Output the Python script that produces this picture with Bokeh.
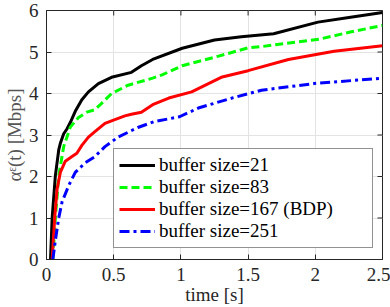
import math
from bokeh.plotting import figure
from bokeh.models import Range1d, FixedTicker, Legend, LegendItem
from bokeh.embed import file_html
from bokeh.resources import INLINE

# ---- data ----
t_21 = [0.03, 0.042, 0.066, 0.091, 0.103, 0.128, 0.153, 0.177, 0.214, 0.263, 0.312, 0.386, 0.484, 0.632, 0.706, 0.79, 1.01, 1.25, 1.45, 1.69, 2.02, 2.25, 2.5]
v_21 = [0.0, 1.0, 2.02, 2.64, 2.8, 3.03, 3.15, 3.3, 3.57, 3.85, 4.04, 4.24, 4.39, 4.51, 4.67, 4.82, 5.09, 5.29, 5.37, 5.44, 5.72, 5.83, 5.95]

t_83 = [0.047, 0.066, 0.091, 0.128, 0.177, 0.238, 0.3, 0.36, 0.4, 0.484, 0.607, 0.79, 0.86, 1.01, 1.28, 1.5, 1.6, 2.03, 2.26, 2.5]
v_83 = [0.0, 1.0, 2.02, 2.72, 3.19, 3.42, 3.55, 3.61, 3.73, 4.0, 4.2, 4.37, 4.45, 4.67, 4.9, 5.1, 5.13, 5.31, 5.48, 5.64]

t_167 = [0.042, 0.061, 0.079, 0.103, 0.14, 0.19, 0.226, 0.263, 0.312, 0.36, 0.435, 0.484, 0.583, 0.632, 0.706, 0.79, 0.91, 1.08, 1.3, 1.5, 1.8, 2.14, 2.5]
v_167 = [0.0, 1.0, 1.7, 2.1, 2.37, 2.48, 2.56, 2.75, 2.95, 3.08, 3.28, 3.34, 3.46, 3.5, 3.55, 3.73, 3.89, 4.04, 4.39, 4.55, 4.82, 5.02, 5.15]

t_251 = [0.047, 0.066, 0.091, 0.116, 0.165, 0.214, 0.288, 0.36, 0.41, 0.435, 0.533, 0.68, 0.8, 0.99, 1.13, 1.38, 1.6, 1.99, 2.5]
v_251 = [0.0, 0.46, 1.0, 1.39, 1.78, 2.1, 2.33, 2.48, 2.64, 2.72, 2.95, 3.18, 3.32, 3.44, 3.65, 3.89, 4.08, 4.24, 4.37]

labels = ["buffer size=21", "buffer size=83", "buffer size=167 (BDP)", "buffer size=251"]
x_ticks = [0, 0.5, 1, 1.5, 2, 2.5]
y_ticks = [0, 1, 2, 3, 4, 5, 6]
x_max = 2.5
y_max = 6

FONT = "Liberation Serif"
AX = "#262626"

p = figure(width=390, height=307, output_backend="svg", toolbar_location=None,
           x_range=Range1d(0, x_max), y_range=Range1d(0, y_max),
           min_border_left=43, min_border_right=8, min_border_top=10, min_border_bottom=44)

p.outline_line_color = AX
p.outline_line_width = 1
p.background_fill_color = "white"
p.border_fill_color = "white"

for ax, ticks in ((p.xaxis[0], x_ticks), (p.yaxis[0], y_ticks)):
    ax.ticker = FixedTicker(ticks=ticks)
    ax.major_tick_in = 5
    ax.major_tick_out = 0
    ax.minor_tick_in = 0
    ax.minor_tick_out = 0
    ax.axis_line_color = AX
    ax.major_tick_line_color = AX
    ax.major_label_text_font = FONT
    ax.major_label_text_font_size = "19px"
    ax.major_label_text_color = AX
    ax.axis_label_text_font = FONT
    ax.axis_label_text_font_size = "19px"
    ax.axis_label_text_font_style = "normal"

p.xaxis[0].axis_label = "time [s]"
p.xaxis[0].axis_label_text_color = AX
p.xaxis[0].major_label_standoff = 8
p.xaxis[0].axis_label_standoff = 0
p.yaxis[0].axis_label = "αᵋ(t) [Mbps]"
p.yaxis[0].axis_label_text_color = "#555555"
p.yaxis[0].major_label_standoff = 8
p.yaxis[0].axis_label_standoff = 1

# inward ticks on the top and right edges of the box
p.ray(x=x_ticks, y=[y_max] * len(x_ticks), length=5, length_units="screen",
      angle=-math.pi / 2, line_color=AX, line_width=1)
p.ray(x=[x_max] * len(y_ticks), y=y_ticks, length=5, length_units="screen",
      angle=math.pi, line_color=AX, line_width=1)

p.xgrid.ticker = FixedTicker(ticks=x_ticks)
p.ygrid.ticker = FixedTicker(ticks=y_ticks)
p.xgrid.grid_line_color = "#e3e3e3"
p.ygrid.grid_line_color = "#e3e3e3"

r1 = p.line(t_21, v_21, line_color="#000000", line_width=3, line_join="round")
r2 = p.line(t_83, v_83, line_color="#00ff00", line_width=3, line_dash="8 4")
r3 = p.line(t_167, v_167, line_color="#ff0000", line_width=3, line_join="round")
r4 = p.line(t_251, v_251, line_color="#0000ff", line_width=3, line_dash="10 4 3 4")

legend = Legend(items=[LegendItem(label=l, renderers=[r]) for l, r in zip(labels, [r1, r2, r3, r4])],
                location=(67, 11), label_text_font=FONT, label_text_font_size="19px",
                label_text_color="#000000", border_line_color=AX, border_line_width=1,
                background_fill_alpha=1.0, padding=5, spacing=0, glyph_width=36,
                glyph_height=22, label_height=22, label_standoff=4, label_width=208,
                margin=0)
p.add_layout(legend, "center")

open("out.html", "w").write(file_html(p, INLINE))
